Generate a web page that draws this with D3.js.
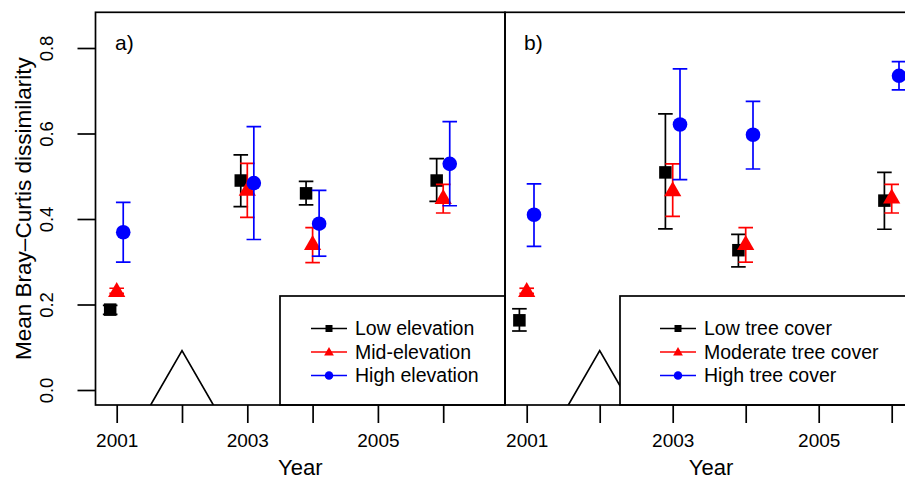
<!DOCTYPE html>
<html>
<head>
<meta charset="utf-8">
<script src="https://cdn.jsdelivr.net/npm/d3@7"></script>
<style>
  body { margin: 0; background: #fff; }
  text { font-family: "Liberation Sans", Arial, sans-serif; fill: #000; }
</style>
</head>
<body>
<div id="chart"></div>
<script>
// years sampled
const years = [2001, 2003, 2004, 2006];
const axisYears = [2001, 2002, 2003, 2004, 2005, 2006];
const yTicks = [0, 0.2, 0.4, 0.6, 0.8];

// panel a) elevation
const lowElevMean = [0.188, 0.490, 0.460, 0.490];
const lowElevLo   = [0.177, 0.429, 0.433, 0.441];
const lowElevHi   = [0.198, 0.550, 0.488, 0.541];
const midElevMean = [0.232, 0.469, 0.342, 0.450];
const midElevLo   = [0.226, 0.404, 0.298, 0.414];
const midElevHi   = [0.238, 0.530, 0.380, 0.481];
const highElevMean = [0.369, 0.484, 0.389, 0.529];
const highElevLo   = [0.299, 0.352, 0.313, 0.431];
const highElevHi   = [0.439, 0.616, 0.467, 0.628];

// panel b) tree cover
const lowTreeMean = [0.163, 0.509, 0.327, 0.443];
const lowTreeLo   = [0.138, 0.377, 0.288, 0.376];
const lowTreeHi   = [0.190, 0.646, 0.364, 0.509];
const modTreeMean = [0.232, 0.468, 0.342, 0.451];
const modTreeLo   = [0.226, 0.406, 0.299, 0.414];
const modTreeHi   = [0.238, 0.529, 0.380, 0.481];
const highTreeMean = [0.410, 0.621, 0.597, 0.735];
const highTreeLo   = [0.336, 0.492, 0.517, 0.702];
const highTreeHi   = [0.482, 0.751, 0.675, 0.768];

const elevLabels = ["Low elevation", "Mid-elevation", "High elevation"];
const treeLabels = ["Low tree cover", "Moderate tree cover", "High tree cover"];
const seriesColors = ["#000000", "#ff0000", "#0000ff"];
const seriesShapes = ["square", "triangle", "circle"];
const yearOffsets = [-0.1, 0, 0.1];

const W = 905, H = 479;
const plotTop = 12.3, plotBottom = 405;

const svg = d3.select("#chart").append("svg")
  .attr("width", W)
  .attr("height", H);

const y = d3.scaleLinear().domain([0, 0.8]).range([390, 48]);

const panels = [
  {
    id: "a", label: "a)", left: 95.5, right: 505,
    x: d3.scaleLinear().domain([2001, 2006]).range([116.7, 443.2]),
    series: [
      { mean: lowElevMean, lo: lowElevLo, hi: lowElevHi },
      { mean: midElevMean, lo: midElevLo, hi: midElevHi },
      { mean: highElevMean, lo: highElevLo, hi: highElevHi }
    ],
    legend: elevLabels, legendLeft: 280, legendSym: 329, legendText: 355
  },
  {
    id: "b", label: "b)", left: 505, right: 917,
    x: d3.scaleLinear().domain([2001, 2006]).range([526.7, 891.7]),
    series: [
      { mean: lowTreeMean, lo: lowTreeLo, hi: lowTreeHi },
      { mean: modTreeMean, lo: modTreeLo, hi: modTreeHi },
      { mean: highTreeMean, lo: highTreeLo, hi: highTreeHi }
    ],
    legend: treeLabels, legendLeft: 620, legendSym: 678, legendText: 704
  }
];

const defs = svg.append("defs");

function drawSymbol(g, shape, cx, cy, size, color) {
  if (shape === "square") {
    g.append("rect")
      .attr("x", cx - size / 2).attr("y", cy - size / 2)
      .attr("width", size).attr("height", size)
      .attr("fill", color);
  } else if (shape === "circle") {
    g.append("circle")
      .attr("cx", cx).attr("cy", cy).attr("r", size / 2)
      .attr("fill", color);
  } else {
    const w = size * 1.15, h = size;
    g.append("path")
      .attr("d", `M${cx},${cy - h * 0.58}L${cx + w / 2},${cy + h * 0.42}L${cx - w / 2},${cy + h * 0.42}Z`)
      .attr("fill", color);
  }
}

panels.forEach(p => {
  defs.append("clipPath").attr("id", "clip-" + p.id)
    .append("rect")
    .attr("x", p.left).attr("y", plotTop)
    .attr("width", p.right - p.left).attr("height", plotBottom - plotTop);

  const plot = svg.append("g").attr("clip-path", `url(#clip-${p.id})`);

  // open triangle drawn at 2002
  const ax = p.x(2002), ay = y(0.092), side = 90;
  plot.append("path")
    .attr("d", `M${ax - side / 2},${ay + side * 0.866}L${ax},${ay}L${ax + side / 2},${ay + side * 0.866}`)
    .attr("fill", "none")
    .attr("stroke", "#000")
    .attr("stroke-width", 1.7);

  // series with error bars
  p.series.forEach((s, si) => {
    const color = seriesColors[si];
    const g = plot.append("g");
    years.forEach((yr, i) => {
      const cx = p.x(yr + yearOffsets[si]);
      const cap = 7.3;
      g.append("line")
        .attr("x1", cx).attr("x2", cx)
        .attr("y1", y(s.lo[i])).attr("y2", y(s.hi[i]))
        .attr("stroke", color).attr("stroke-width", 1.7);
      [s.lo[i], s.hi[i]].forEach(v => {
        g.append("line")
          .attr("x1", cx - cap).attr("x2", cx + cap)
          .attr("y1", y(v)).attr("y2", y(v))
          .attr("stroke", color).attr("stroke-width", 1.7);
      });
      const size = seriesShapes[si] === "square" ? 12.5 : (seriesShapes[si] === "circle" ? 14.6 : 15);
      drawSymbol(g, seriesShapes[si], cx, y(s.mean[i]), size, color);
    });
  });

  // legend box
  const lg = svg.append("g");
  lg.append("rect")
    .attr("x", p.legendLeft).attr("y", 296)
    .attr("width", p.right - p.legendLeft).attr("height", plotBottom - 296)
    .attr("fill", "#fff")
    .attr("stroke", "#000").attr("stroke-width", 1.7);
  const rowBase = [335, 358.5, 382];
  p.legend.forEach((lab, i) => {
    const cy = rowBase[i] - 6.5;
    lg.append("line")
      .attr("x1", p.legendSym - 18).attr("x2", p.legendSym + 18)
      .attr("y1", cy).attr("y2", cy)
      .attr("stroke", seriesColors[i]).attr("stroke-width", 1.6);
    drawSymbol(lg, seriesShapes[i], p.legendSym, cy, seriesShapes[i] === "square" ? 7 : 8.5, seriesColors[i]);
    lg.append("text")
      .attr("x", p.legendText).attr("y", rowBase[i])
      .style("font-size", "19.5px")
      .text(lab);
  });

  // frame
  svg.append("rect")
    .attr("x", p.left).attr("y", plotTop)
    .attr("width", p.right - p.left).attr("height", plotBottom - plotTop)
    .attr("fill", "none")
    .attr("stroke", "#000").attr("stroke-width", 1.7);

  // x axis
  const xAxis = svg.append("g")
    .attr("transform", `translate(0,${plotBottom})`)
    .call(d3.axisBottom(p.x)
      .tickValues(axisYears)
      .tickSize(18)
      .tickPadding(6)
      .tickFormat(d => d % 2 === 1 ? d : ""));
  xAxis.select(".domain").remove();
  xAxis.selectAll("line").attr("stroke-width", 1.7);
  xAxis.selectAll("text")
    .attr("y", 41.7).attr("dy", 0)
    .style("font-family", "'Liberation Sans', Arial, sans-serif")
    .style("font-size", "19px");

  svg.append("text")
    .attr("x", (p.left + p.right) / 2)
    .attr("y", 474.5)
    .attr("text-anchor", "middle")
    .style("font-size", "22px")
    .text("Year");

  svg.append("text")
    .attr("x", p.left + (p.id === "a" ? 19.5 : 19))
    .attr("y", 50)
    .style("font-size", "21px")
    .text(p.label);
});

// y axis on panel a
const yAxis = svg.append("g")
  .attr("transform", `translate(95.5,0)`)
  .call(d3.axisLeft(y)
    .tickValues(yTicks)
    .tickSize(18)
    .tickFormat(d3.format(".1f")));
yAxis.select(".domain").remove();
yAxis.selectAll("line").attr("stroke-width", 1.7);
yAxis.selectAll("text")
  .attr("transform", "rotate(-90)")
  .attr("x", 0).attr("y", -43).attr("dy", 0)
  .attr("text-anchor", "middle")
  .style("font-family", "'Liberation Sans', Arial, sans-serif")
  .style("font-size", "18.5px");

svg.append("text")
  .attr("transform", `translate(31,${(plotTop + plotBottom) / 2}) rotate(-90)`)
  .attr("text-anchor", "middle")
  .style("font-size", "22.5px")
  .text("Mean Bray\u2013Curtis dissimilarity");
</script>
</body>
</html>
